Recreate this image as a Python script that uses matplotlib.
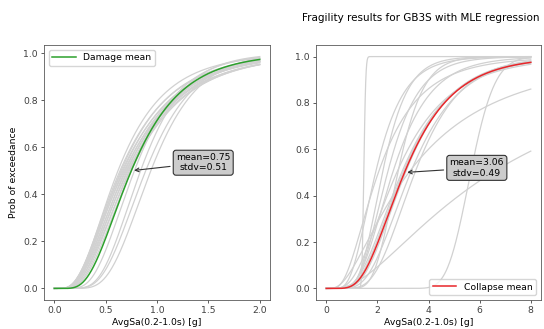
import math
import numpy as np
import matplotlib
matplotlib.use("Agg")
import matplotlib.pyplot as plt

# fragility curve parameters (median [g], log-std)
damage_medians = [0.62, 0.64, 0.65, 0.66, 0.67, 0.68, 0.69, 0.70, 0.71, 0.72,
                  0.73, 0.74, 0.75, 0.78, 0.84, 0.89, 0.94]
damage_betas = [0.58, 0.62, 0.60, 0.64, 0.61, 0.65, 0.60, 0.63, 0.58, 0.62,
                0.56, 0.60, 0.55, 0.45, 0.40, 0.41, 0.38]
damage_mean = 0.75
damage_stdv = 0.51

collapse_medians = [1.47, 1.93, 2.04, 2.2, 2.4, 2.6, 2.76, 2.8, 2.95, 3.0,
                    3.1, 3.23, 3.3, 3.47, 5.65, 6.5]
collapse_betas = [0.04, 0.45, 0.62, 0.35, 0.40, 0.45, 0.58, 0.28, 0.52, 0.50,
                  0.47, 0.84, 0.45, 0.40, 0.13, 0.89]
collapse_mean = 3.06
collapse_stdv = 0.49

im_damage = np.linspace(0, 2, 300)
im_collapse = np.linspace(0, 8, 400)


def lognorm_cdf(x, med, beta):
    out = []
    for v in x:
        if v <= 0:
            out.append(0.0)
        else:
            out.append(0.5 * (1 + math.erf(math.log(v / med) / (beta * math.sqrt(2)))))
    return np.array(out)


plt.rcParams['font.family'] = ['DejaVu Sans']
plt.rcParams['font.size'] = 6.7

fig = plt.figure(figsize=(5.44, 3.29), dpi=100)
ax1 = fig.add_axes([44 / 544, 29 / 329, 226 / 544, 255 / 329])
ax2 = fig.add_axes([316 / 544, 29 / 329, 225 / 544, 255 / 329])

for m, b in zip(damage_medians, damage_betas):
    ax1.plot(im_damage, lognorm_cdf(im_damage, m, b), color='0.82', lw=0.9)
ax1.plot(im_damage, lognorm_cdf(im_damage, damage_mean, damage_stdv), color='tab:green', lw=1.1, label='Damage mean')

for m, b in zip(collapse_medians, collapse_betas):
    ax2.plot(im_collapse, lognorm_cdf(im_collapse, m, b), color='0.82', lw=0.9)
ax2.plot(im_collapse, lognorm_cdf(im_collapse, collapse_mean, collapse_stdv), color='#e8262a', lw=1.1, label='Collapse mean')

box = dict(boxstyle='round', fc='0.8', ec='0.2', lw=0.8)
arrow = dict(arrowstyle='->', color='0.2', lw=0.8)
ax1.annotate('mean=%.2f\nstdv=%.2f' % (damage_mean, damage_stdv), xy=(damage_mean, 0.5),
             xytext=(1.45, 0.534), ha='center', va='center', bbox=box, arrowprops=arrow)
ax2.annotate('mean=%.2f\nstdv=%.2f' % (collapse_mean, collapse_stdv), xy=(collapse_mean, 0.5),
             xytext=(5.89, 0.52), ha='center', va='center', bbox=box, arrowprops=arrow)

ax1.legend(loc='upper left', handlelength=2.5, fontsize=6.7)
ax2.legend(loc='lower right', handlelength=2.5, fontsize=6.7)

ax1.set_xticks([0.0, 0.5, 1.0, 1.5, 2.0])
ax2.set_xticks([0, 2, 4, 6, 8])
for ax in (ax1, ax2):
    ax.set_yticks([0.0, 0.2, 0.4, 0.6, 0.8, 1.0])
    ax.set_xlabel('AvgSa(0.2-1.0s) [g]', labelpad=2)
    ax.tick_params(length=2.5, width=0.6, pad=2, colors='0.25')
    for s in ax.spines.values():
        s.set_linewidth(0.6)
        s.set_color('0.35')
ax1.set_ylabel('Prob of exceedance', labelpad=4)

fig.text(421 / 544, 1 - 18 / 329, 'Fragility results for GB3S with MLE regression',
         ha='center', va='center', fontsize=7.5)

fig.savefig('out.png', dpi=100)
